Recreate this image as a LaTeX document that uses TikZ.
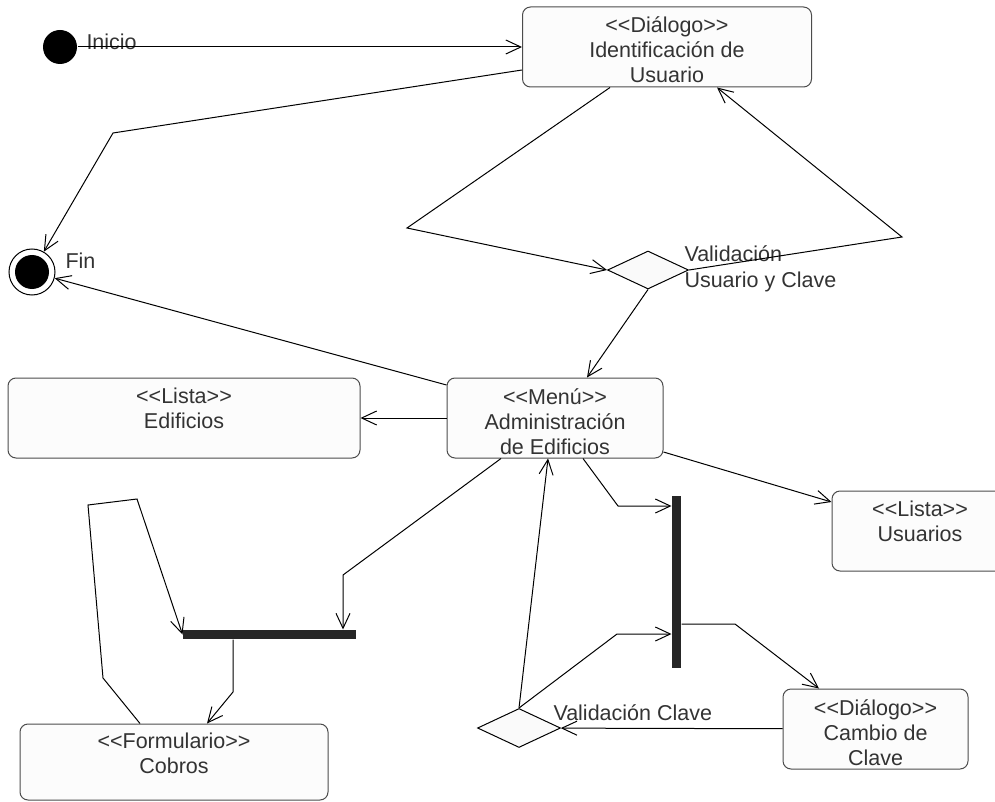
\documentclass[tikz,border=0pt]{standalone}
\usepackage{fontspec}
\setmainfont{Liberation Sans}[Ligatures=TeXOff]
\usetikzlibrary{arrows.meta,shapes.geometric}

\begin{document}
\begin{tikzpicture}[> = {Straight Barb[length=15pt,width=14pt]}, % punta abierta
	x=1pt, y=-1pt, % un punto por pixel
	line width=1pt,
	every node/.style={font=\fontsize{21.5}{25}\selectfont, text=black!80},
	caja/.style={rectangle, rounded corners=8pt, draw=black!70, fill=black!1,
		minimum height=80pt, align=center, inner sep=0pt},
	caja3/.style={caja, text height=76pt, text depth=4pt}, % tres lineas
	caja2/.style={caja, text height=50pt, text depth=30pt}, % dos lineas
	decision/.style={diamond, draw, fill=black!2, inner sep=0pt},
	barra/.style={rectangle, fill=black!85, inner sep=0pt},
	etiqueta/.style={inner sep=0pt, anchor=base west}]
	\useasboundingbox (0,0) rectangle (995,802);
	% estados inicial y final
	\node[circle, fill=black, minimum size=34pt, inner sep=0pt] (ini) at (60,47) {};
	\node[circle, draw, minimum size=46pt, inner sep=0pt] (fin) at (32,272) {};
	\fill (fin.center) circle (17pt);
	\node[etiqueta] (tini) at (86,50) {Inicio};
	\node[etiqueta] (tfin) at (65,269) {Fin};
	% actividades
	\node[caja3, minimum width=289pt] (ident) at (667,47) {<<Diálogo>>\\Identificación de\\Usuario};
	\node[caja3, minimum width=216pt] (menu) at (555,418) {<<Menú>>\\Administración\\de Edificios};
	\node[caja2, minimum width=352pt] (edif) at (184,418) {<<Lista>>\\Edificios};
	\node[caja2, minimum width=176pt] (usu) at (920,531) {<<Lista>>\\Usuarios};
	\node[caja2, minimum width=308pt, minimum height=76pt, text height=49pt, text depth=27pt] (cobros) at (174,762) {<<Formulario>>\\Cobros};
	\node[caja3, minimum width=185pt] (cambio) at (875.5,729) {<<Diálogo>>\\Cambio de\\Clave};
	% decisiones
	\node[decision, minimum width=81pt, minimum height=38pt] (dec1) at (648,270) {};
	\node[decision, minimum width=83pt, minimum height=39pt] (dec2) at (519,728) {};
	\node[etiqueta, align=left] (tdec1) at (684,287) {Validación\\Usuario y Clave};
	\node[etiqueta] (tdec2) at (553,720) {Validación Clave};
	% barras de sincronizacion
	\node[barra, minimum width=173pt, minimum height=9pt] (barra1) at (269.5,634.5) {};
	\node[barra, minimum width=9pt, minimum height=172pt] (barra2) at (676.5,582) {};
	% transiciones
	\draw[->] (ini) -- (ident);
	\draw[->] (ident.west |- 0,70) -- (113,133) -- (fin);
	\draw[->] (ident.south -| 610,0) -- (407,228) -- (dec1.west);
	\draw[->] (dec1.east) -- (902,237) -- (ident.south -| 717,0);
	\draw[->] (dec1.south) -- (menu.north -| 587,0);
	\draw[->] (menu.west |- 0,385) -- (fin);
	\draw[->] (menu) -- (edif);
	\draw[->] (menu.south -| 501,0) -- (343,575) -- (barra1.north -| 343,0);
	\draw[->] (cobros.north -| 140,0) -- (103,678) -- (88,505) -- (137,499) -- (barra1.west);
	\draw[->] (barra1.south -| 233,0) -- (233,692) -- (cobros.north -| 207,0);
	\draw[->] (menu.south -| 583,0) -- (618,506) -- (barra2.west |- 0,506);
	\draw[->] (menu.east |- 0,452) -- (usu.west |- 0,502);
	\draw[->] (dec2.north) -- (menu.south -| 548,0);
	\draw[->] (dec2.north) -- (617,634) -- (barra2.west |- 0,634);
	\draw[->] (barra2.east |- 0,624) -- (735,624) -- (cambio.north -| 819,0);
	\draw[->] (cambio) -- (dec2);
\end{tikzpicture}
\end{document}
